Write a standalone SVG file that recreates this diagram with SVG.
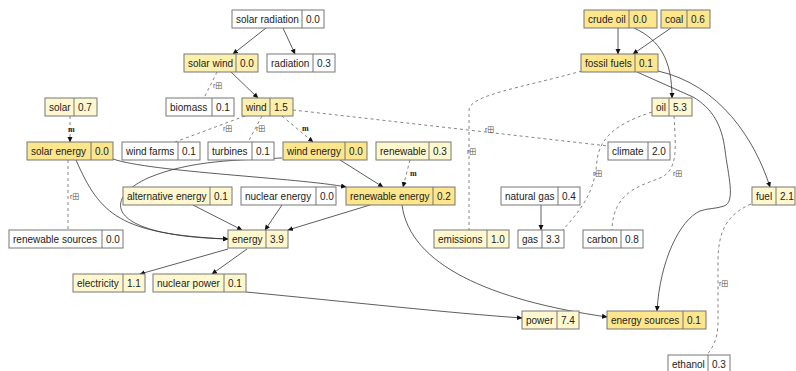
<svg xmlns="http://www.w3.org/2000/svg" width="796" height="371" viewBox="0 0 796 371">
<style>
.b{stroke:#777;stroke-width:1}
.w{fill:#fff}
.p{fill:#fff8cf}
.m{fill:#fdf0ae}
.s{fill:#fde68c}
.d{stroke:#777;stroke-width:1}
text{font-family:"Liberation Sans",Arial,sans-serif;font-size:10px;fill:#222}
.e{fill:none;stroke:#333;stroke-width:0.8;marker-end:url(#a)}
.r{fill:none;stroke:#666;stroke-width:0.8;stroke-dasharray:3,3}
.rm{fill:none;stroke:#666;stroke-width:0.8;stroke-dasharray:3,3;marker-end:url(#a)}
.lb{font-size:7px;fill:#555;font-family:"Liberation Sans","Noto Sans CJK SC",sans-serif}
.lm{font-size:8px;fill:#222;font-family:"Liberation Serif",serif;font-weight:bold}
</style>
<defs>
<marker id="a" markerWidth="6" markerHeight="6" refX="5" refY="3" orient="auto" markerUnits="userSpaceOnUse">
<path d="M0,0.5 L5.5,3 L0,5.5 Z" fill="#111"/>
</marker>
</defs>
<rect width="796" height="371" fill="#fff"/>
<g id="edges">
<path class="e" d="M266,28 L233,54"/>
<path class="e" d="M283,28 L295,54"/>
<path class="e" d="M230,71 L258,98"/>
<path class="r" d="M217,72 L204,98"/>
<text class="lb" x="213" y="88">r田</text>
<path class="r" d="M245,116 L175,142"/>
<text class="lb" x="223" y="131">r田</text>
<path class="r" d="M262,116 L248,142"/>
<text class="lb" x="256" y="131">r田</text>
<path class="rm" d="M282,116 L313,142"/>
<text class="lm" x="302" y="131">m</text>
<path class="r" d="M293,110 L608,146"/>
<text class="lb" x="485" y="132">r田</text>
<path class="rm" d="M70,116 L70,142"/>
<text class="lm" x="68" y="132">m</text>
<path class="r" d="M68,160 L68,230"/>
<text class="lb" x="70" y="199">r田</text>
<path class="e" d="M76,160 C100,215 120,234 228,239"/>
<path class="e" d="M113,159 C150,172 300,178 346,187"/>
<path class="e" d="M282,158 C240,160 190,160 148,178 C100,200 108,236 228,239"/>
<path class="e" d="M340,160 L383,187"/>
<path class="rm" d="M410,160 L403,187"/>
<text class="lm" x="410" y="176">m</text>
<path class="e" d="M193,205 L242,230"/>
<path class="e" d="M282,205 L265,230"/>
<path class="e" d="M370,205 L288,230"/>
<path class="e" d="M402,205 C410,265 490,300 607,317"/>
<path class="e" d="M228,249 L140,274"/>
<path class="e" d="M247,249 L212,274"/>
<path class="e" d="M246,292 C350,302 450,313 522,318"/>
<path class="e" d="M618,28 L618,54"/>
<path class="e" d="M671,28 L633,54"/>
<path class="e" d="M634,28 C660,40 672,60 672,98"/>
<path class="r" d="M582,71 C520,88 470,95 469,110 L469,230"/>
<text class="lb" x="467" y="154">r田</text>
<path class="e" d="M637,72 L693,97 C712,108 722,125 725,150 C728,175 736,202 724,206 C716,209 708,208 700,211 C680,220 660,260 657,311"/>
<path class="e" d="M658,71 C720,85 755,140 770,187"/>
<path class="r" d="M652,112 C612,125 600,140 597,160 C595,195 578,212 563,230"/>
<text class="lb" x="593" y="176">r田</text>
<path class="r" d="M674,116 C676,150 678,170 660,178 C640,186 613,192 612,230"/>
<text class="lb" x="673" y="176">r田</text>
<path class="e" d="M541,205 L541,230"/>
<path class="r" d="M751,204 C726,215 718,232 718,262 L718,322 C718,340 712,348 707,355"/>
<text class="lb" x="719" y="286">r田</text>
</g>
<g id="n-solar-radiation"><rect class="b w" x="232" y="10" width="92" height="18"/><line class="d" x1="302" y1="10" x2="302" y2="28"/><text x="236" y="23">solar radiation</text><text x="306" y="23">0.0</text></g>
<g id="n-solar-wind"><rect class="b m" x="184" y="54" width="74" height="18"/><line class="d" x1="236" y1="54" x2="236" y2="72"/><text x="188" y="67">solar wind</text><text x="240" y="67">0.0</text></g>
<g id="n-radiation"><rect class="b w" x="267" y="54" width="68" height="18"/><line class="d" x1="313" y1="54" x2="313" y2="72"/><text x="271" y="67">radiation</text><text x="317" y="67">0.3</text></g>
<g id="n-solar"><rect class="b p" x="45" y="98" width="52" height="18"/><line class="d" x1="74" y1="98" x2="74" y2="116"/><text x="49" y="111">solar</text><text x="78" y="111">0.7</text></g>
<g id="n-biomass"><rect class="b w" x="166" y="98" width="68" height="18"/><line class="d" x1="212" y1="98" x2="212" y2="116"/><text x="170" y="111">biomass</text><text x="216" y="111">0.1</text></g>
<g id="n-wind"><rect class="b m" x="242" y="98" width="51" height="18"/><line class="d" x1="270" y1="98" x2="270" y2="116"/><text x="246" y="111">wind</text><text x="274" y="111">1.5</text></g>
<g id="n-crude-oil"><rect class="b s" x="584" y="10" width="73" height="18"/><line class="d" x1="629" y1="10" x2="629" y2="28"/><text x="588" y="23">crude oil</text><text x="633" y="23">0.0</text></g>
<g id="n-coal"><rect class="b s" x="661" y="10" width="49" height="18"/><line class="d" x1="687" y1="10" x2="687" y2="28"/><text x="665" y="23">coal</text><text x="691" y="23">0.6</text></g>
<g id="n-fossil-fuels"><rect class="b s" x="581" y="54" width="77" height="18"/><line class="d" x1="635" y1="54" x2="635" y2="72"/><text x="585" y="67">fossil fuels</text><text x="639" y="67">0.1</text></g>
<g id="n-oil"><rect class="b p" x="652" y="98" width="40" height="18"/><line class="d" x1="669" y1="98" x2="669" y2="116"/><text x="656" y="111">oil</text><text x="673" y="111">5.3</text></g>
<g id="n-solar-energy"><rect class="b s" x="27" y="142" width="86" height="18"/><line class="d" x1="91" y1="142" x2="91" y2="160"/><text x="31" y="155">solar energy</text><text x="95" y="155">0.0</text></g>
<g id="n-wind-farms"><rect class="b w" x="122" y="142" width="78" height="18"/><line class="d" x1="178" y1="142" x2="178" y2="160"/><text x="126" y="155">wind farms</text><text x="182" y="155">0.1</text></g>
<g id="n-turbines"><rect class="b w" x="208" y="142" width="66" height="18"/><line class="d" x1="252" y1="142" x2="252" y2="160"/><text x="212" y="155">turbines</text><text x="256" y="155">0.1</text></g>
<g id="n-wind-energy"><rect class="b s" x="283" y="142" width="84" height="18"/><line class="d" x1="345" y1="142" x2="345" y2="160"/><text x="287" y="155">wind energy</text><text x="349" y="155">0.0</text></g>
<g id="n-renewable"><rect class="b p" x="376" y="142" width="75" height="18"/><line class="d" x1="429" y1="142" x2="429" y2="160"/><text x="380" y="155">renewable</text><text x="433" y="155">0.3</text></g>
<g id="n-climate"><rect class="b w" x="608" y="142" width="62" height="18"/><line class="d" x1="648" y1="142" x2="648" y2="160"/><text x="612" y="155">climate</text><text x="652" y="155">2.0</text></g>
<g id="n-alternative-energy"><rect class="b p" x="123" y="187" width="109" height="18"/><line class="d" x1="210" y1="187" x2="210" y2="205"/><text x="127" y="200">alternative energy</text><text x="214" y="200">0.1</text></g>
<g id="n-nuclear-energy"><rect class="b w" x="241" y="187" width="95" height="18"/><line class="d" x1="316" y1="187" x2="316" y2="205"/><text x="245" y="200">nuclear energy</text><text x="320" y="200">0.0</text></g>
<g id="n-renewable-energy"><rect class="b s" x="346" y="187" width="109" height="18"/><line class="d" x1="433" y1="187" x2="433" y2="205"/><text x="350" y="200">renewable energy</text><text x="437" y="200">0.2</text></g>
<g id="n-natural-gas"><rect class="b w" x="501" y="187" width="79" height="18"/><line class="d" x1="558" y1="187" x2="558" y2="205"/><text x="505" y="200">natural gas</text><text x="562" y="200">0.4</text></g>
<g id="n-fuel"><rect class="b p" x="752" y="187" width="43" height="18"/><line class="d" x1="776" y1="187" x2="776" y2="205"/><text x="756" y="200">fuel</text><text x="780" y="200">2.1</text></g>
<g id="n-renewable-sources"><rect class="b w" x="9" y="230" width="114" height="18"/><line class="d" x1="102" y1="230" x2="102" y2="248"/><text x="13" y="243">renewable sources</text><text x="106" y="243">0.0</text></g>
<g id="n-energy"><rect class="b p" x="228" y="230" width="60" height="18"/><line class="d" x1="266" y1="230" x2="266" y2="248"/><text x="232" y="243">energy</text><text x="270" y="243">3.9</text></g>
<g id="n-emissions"><rect class="b p" x="434" y="230" width="75" height="18"/><line class="d" x1="487" y1="230" x2="487" y2="248"/><text x="438" y="243">emissions</text><text x="491" y="243">1.0</text></g>
<g id="n-gas"><rect class="b w" x="518" y="230" width="46" height="18"/><line class="d" x1="542" y1="230" x2="542" y2="248"/><text x="522" y="243">gas</text><text x="546" y="243">3.3</text></g>
<g id="n-carbon"><rect class="b w" x="583" y="230" width="60" height="18"/><line class="d" x1="621" y1="230" x2="621" y2="248"/><text x="587" y="243">carbon</text><text x="625" y="243">0.8</text></g>
<g id="n-electricity"><rect class="b p" x="73" y="274" width="72" height="18"/><line class="d" x1="123" y1="274" x2="123" y2="292"/><text x="77" y="287">electricity</text><text x="127" y="287">1.1</text></g>
<g id="n-nuclear-power"><rect class="b p" x="153" y="274" width="93" height="18"/><line class="d" x1="224" y1="274" x2="224" y2="292"/><text x="157" y="287">nuclear power</text><text x="228" y="287">0.1</text></g>
<g id="n-power"><rect class="b p" x="522" y="311" width="57" height="18"/><line class="d" x1="557" y1="311" x2="557" y2="329"/><text x="526" y="324">power</text><text x="561" y="324">7.4</text></g>
<g id="n-energy-sources"><rect class="b s" x="607" y="311" width="99" height="18"/><line class="d" x1="683" y1="311" x2="683" y2="329"/><text x="611" y="324">energy sources</text><text x="687" y="324">0.1</text></g>
<g id="n-ethanol"><rect class="b w" x="668" y="355" width="62" height="18"/><line class="d" x1="708" y1="355" x2="708" y2="373"/><text x="672" y="368">ethanol</text><text x="712" y="368">0.3</text></g>
</svg>
